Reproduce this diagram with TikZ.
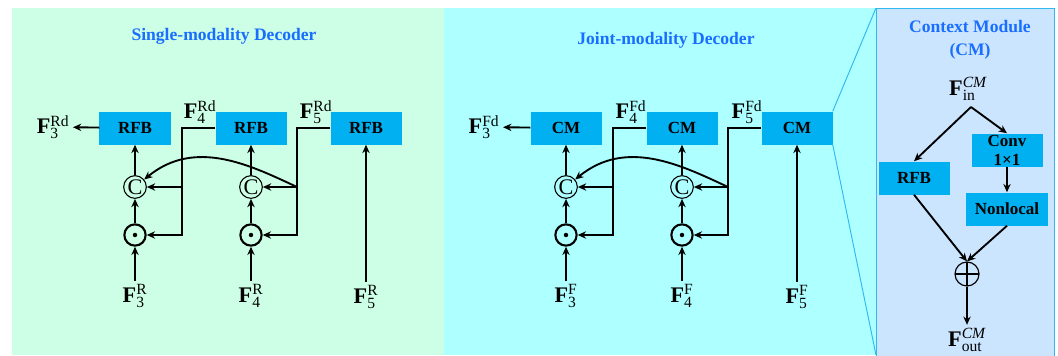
\documentclass[tikz,border=0pt]{standalone}
\usepackage{fontspec}
\setmainfont{Liberation Serif}
\usepackage{tikz}
\usetikzlibrary{arrows.meta,positioning}
\definecolor{smbg}{HTML}{CCFFE6}
\definecolor{jmbg}{HTML}{AEFFFF}
\definecolor{cmbg}{HTML}{CCE5FF}
\definecolor{boxc}{HTML}{00B0F0}
\definecolor{ttlc}{HTML}{1A6EFF}
\definecolor{edgec}{HTML}{30B8F0}
\newcommand{\feat}[2]{$\mathbf{F}^{\mathrm{#2}}_{\mathrm{#1}}$}
\tikzset{
  ar/.style={-{Stealth[length=2.5mm,width=2.2mm]},line width=1.6pt},
  blk/.style={rectangle,fill=boxc,minimum width=2.13cm,minimum height=0.99cm,inner sep=0pt,font=\fontsize{14.5}{16}\selectfont\bfseries},
  cat/.style={circle,draw,line width=0.9pt,minimum size=0.68cm,inner sep=0pt,font=\fontsize{19}{19}\selectfont},
  mul/.style={circle,draw,line width=1.8pt,minimum size=0.64cm,inner sep=0pt,
    path picture={\fill (path picture bounding box.center) circle (1.9pt);}},
  add/.style={circle,draw,line width=1pt,minimum size=0.72cm,inner sep=0pt,
    path picture={\draw[line width=1pt] (path picture bounding box.north)--(path picture bounding box.south)
      (path picture bounding box.west)--(path picture bounding box.east);}},
  lbl/.style={font=\fontsize{19}{21}\selectfont,inner sep=3pt},
  ttl/.style={text=ttlc,font=\fontsize{15}{19.5}\selectfont\bfseries,align=center}
}

\begin{document}
\begin{tikzpicture}[x=0.03cm,y=-0.03cm]
\useasboundingbox (0,0) rectangle (1058,355);
% panels
\fill[smbg] (12,8) rectangle (444,355);
\fill[jmbg] (444,8) rectangle (876,355);
\filldraw[fill=cmbg,draw=edgec,line width=0.8pt] (876,8) rectangle (1054,356);
\node[ttl] (tts) at (224,36) {Single-modality Decoder};
\node[ttl] (ttj) at (666,40) {Joint-modality Decoder};
% the two decoders
\foreach \p/\dx/\bt/\inp/\outp in {s/0/RFB/R/Rd, j/431/CM/F/Fd}{
\begin{scope}[shift={(\dx,0)}]
\node[blk] (b1\p) at (135,128) {\bt}; \node[blk] (b2\p) at (251,128) {\bt}; \node[blk] (b3\p) at (366,128) {\bt};
\node[cat] (c1\p) at (135,187) {C}; \node[cat] (c2\p) at (251,187) {C};
\node[mul] (m1\p) at (135,235) {}; \node[mul] (m2\p) at (251,235) {};
\node[lbl] (i3\p) at (135,296) {\feat{3}{\inp}}; \node[lbl] (i4\p) at (251,296) {\feat{4}{\inp}}; \node[lbl] (i5\p) at (366,297) {\feat{5}{\inp}};
\node[lbl] (o3\p) at (53,127) {\feat{3}{\outp}}; \node[lbl] (o4\p) at (200,112) {\feat{4}{\outp}}; \node[lbl] (o5\p) at (316,112) {\feat{5}{\outp}};
\coordinate (j4\p) at (182,187); \coordinate (j5\p) at (297,187);
\draw[ar] (i3\p) -- (m1\p); \draw[ar] (m1\p) -- (c1\p); \draw[ar] (c1\p) -- (b1\p); \draw[ar] (b1\p) -- (o3\p);
\draw[ar] (i4\p) -- (m2\p); \draw[ar] (m2\p) -- (c2\p); \draw[ar] (c2\p) -- (b2\p);
\draw[ar] (i5\p) -- (b3\p);
\draw[ar] (b2\p) -| (j4\p) |- (m1\p); \draw[ar] (j4\p) -- (c1\p);
\draw[ar] (b3\p) -| (j5\p) |- (m2\p); \draw[ar] (j5\p) -- (c2\p);
\draw[ar] (j5\p) .. controls (250,165) and (195,138) .. (c1\p);
\end{scope}
}
\draw[edgec,line width=0.8pt] (b3j.north east) -- (876,8) (b3j.south east) -- (876,355);
% context module
\node[ttl] (ttc) at (970,40) {Context Module\\(CM)};
\node[lbl] (fin) at (968,89) {$\mathbf{F}^{\mathit{CM}}_{\mathrm{in}}$};
\coordinate (sp) at (971,107);
\node[blk] (rfb) at (914,178) {RFB};
\node[blk,align=center] (conv) at (1007,150) {Conv\\1×1};
\node[blk,minimum width=2.46cm] (nl) at (1007,209) {Nonlocal};
\node[add] (op) at (967,274) {};
\node[lbl] (fout) at (967,340) {$\mathbf{F}^{\mathit{CM}}_{\mathrm{out}}$};
\draw[ar] (sp) -- (rfb.north); \draw[ar] (sp) -- (conv.north);
\draw[ar] (conv.south) -- (conv.south |- nl.north);
\draw[ar] (rfb.south) -- (op.north); \draw[ar] (nl.south) -- (op.north);
\draw[ar] (op) -- (fout);
\end{tikzpicture}
\end{document}
